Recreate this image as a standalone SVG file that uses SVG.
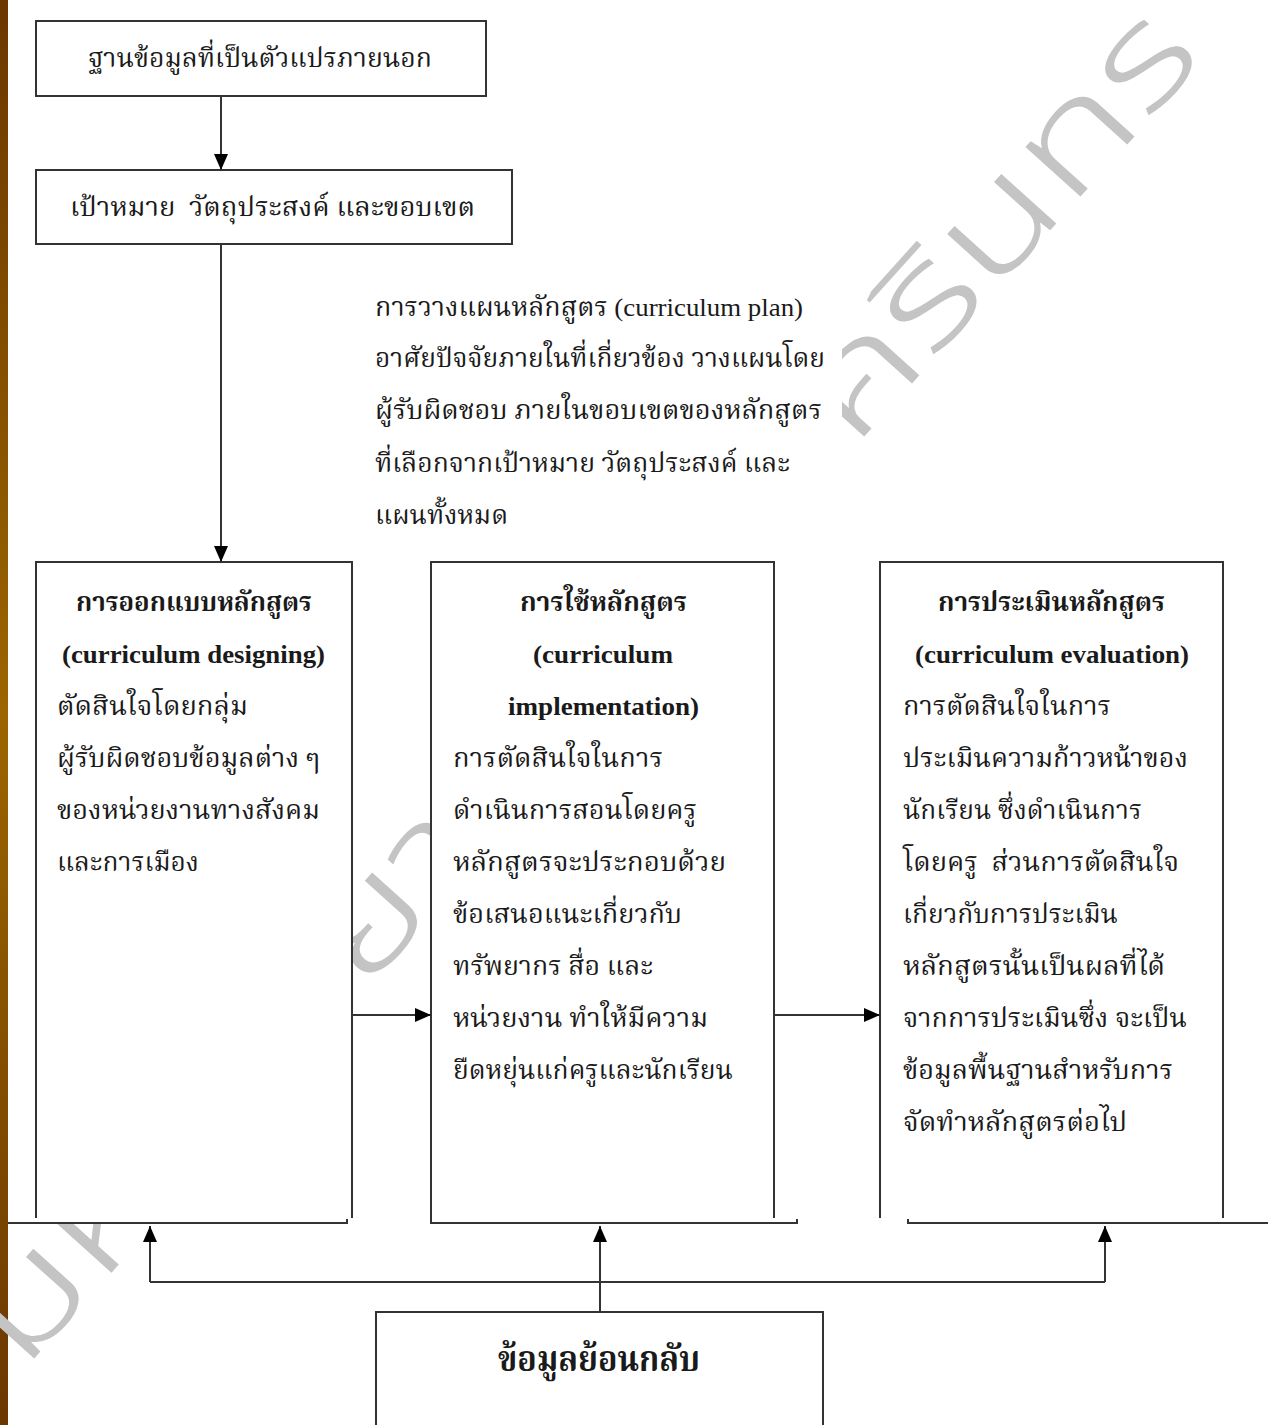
<svg xmlns="http://www.w3.org/2000/svg" width="1268" height="1425" viewBox="0 0 1268 1425">
  <defs>
    <linearGradient id="strip" x1="0" y1="0" x2="0" y2="1">
      <stop offset="0" stop-color="#6a3800"/>
      <stop offset="0.5" stop-color="#9c6500"/>
      <stop offset="1" stop-color="#6a3800"/>
    </linearGradient>
    <marker id="arr" markerUnits="userSpaceOnUse" markerWidth="16" markerHeight="16" viewBox="0 0 16 16" refX="16" refY="8" orient="auto">
      <path d="M0,1 L16,8 L0,15 Z" fill="#000"/>
    </marker>
    <style>
      .ln { fill: none; stroke: #333; stroke-width: 2; }
      .box { fill: #fff; stroke: none; }
      .t { font-family: "Liberation Serif", "Noto Serif Thai", "Noto Sans Thai", "Noto Sans", serif; font-size: 26px; fill: #1a1a1a; }
      .b { font-weight: bold; }
      .big { font-size: 36px; }
      .wm { font-family: "Noto Sans Thai", "Noto Sans", "DejaVu Sans", sans-serif; font-size: 135px; font-weight: 300; fill: #c4c4c4; }
    </style>
  </defs>
  <rect width="1268" height="1425" fill="#fff"/>
  <rect x="0" y="0" width="8" height="1425" fill="url(#strip)"/>

  <g id="watermark">
    <text class="wm" transform="translate(22,1372) rotate(-48)" textLength="1770" lengthAdjust="spacingAndGlyphs">มหาวิทยาลัยศรีนครินทร</text>
  </g>

  <g id="plan-note">
    <rect x="362" y="282" width="480" height="281" class="box"/>
    <text class="t" x="375" y="316" textLength="428" lengthAdjust="spacingAndGlyphs">การวางแผนหลักสูตร (curriculum plan)</text>
    <text class="t" x="375" y="367" textLength="450" lengthAdjust="spacingAndGlyphs">อาศัยปัจจัยภายในที่เกี่ยวข้อง วางแผนโดย</text>
    <text class="t" x="375" y="419" textLength="447" lengthAdjust="spacingAndGlyphs">ผู้รับผิดชอบ ภายในขอบเขตของหลักสูตร</text>
    <text class="t" x="375" y="472" textLength="415" lengthAdjust="spacingAndGlyphs">ที่เลือกจากเป้าหมาย วัตถุประสงค์ และ</text>
    <text class="t" x="375" y="524" textLength="133" lengthAdjust="spacingAndGlyphs">แผนทั้งหมด</text>
  </g>

  <g id="external-data">
    <rect x="36" y="21" width="450" height="75" class="box"/>
    <rect x="36" y="21" width="450" height="75" class="ln"/>
    <text class="t" x="88" y="67" textLength="344" lengthAdjust="spacingAndGlyphs">ฐานข้อมูลที่เป็นตัวแปรภายนอก</text>
  </g>

  <g id="goals">
    <rect x="36" y="170" width="476" height="74" class="box"/>
    <rect x="36" y="170" width="476" height="74" class="ln"/>
    <text class="t" x="70" y="216" textLength="405" lengthAdjust="spacingAndGlyphs">เป้าหมาย &#160;วัตถุประสงค์ และขอบเขต</text>
  </g>

  <g id="design">
    <rect x="36" y="562" width="316" height="661" class="box"/>
    <path class="ln" d="M36,1218 V562 H352 V1218"/>
    <path class="ln" d="M8,1223 H347 V1219"/>
    <text class="t b" x="76" y="611" textLength="236" lengthAdjust="spacingAndGlyphs">การออกแบบหลักสูตร</text>
    <text class="t b" x="62" y="663" textLength="263" lengthAdjust="spacingAndGlyphs">(curriculum designing)</text>
    <text class="t" x="57" y="715" textLength="191" lengthAdjust="spacingAndGlyphs">ตัดสินใจโดยกลุ่ม</text>
    <text class="t" x="57" y="767" textLength="263" lengthAdjust="spacingAndGlyphs">ผู้รับผิดชอบข้อมูลต่าง ๆ</text>
    <text class="t" x="57" y="819" textLength="263" lengthAdjust="spacingAndGlyphs">ของหน่วยงานทางสังคม</text>
    <text class="t" x="57" y="871" textLength="142" lengthAdjust="spacingAndGlyphs">และการเมือง</text>
  </g>

  <g id="implementation">
    <rect x="431" y="562" width="343" height="661" class="box"/>
    <path class="ln" d="M431,1218 V562 H774 V1218"/>
    <path class="ln" d="M431,1218 V1223 H797 V1219"/>
    <text class="t b" x="520" y="611" textLength="167" lengthAdjust="spacingAndGlyphs">การใช้หลักสูตร</text>
    <text class="t b" x="533" y="663" textLength="140" lengthAdjust="spacingAndGlyphs">(curriculum</text>
    <text class="t b" x="508" y="715" textLength="191" lengthAdjust="spacingAndGlyphs">implementation)</text>
    <text class="t" x="453" y="767" textLength="210" lengthAdjust="spacingAndGlyphs">การตัดสินใจในการ</text>
    <text class="t" x="453" y="819" textLength="244" lengthAdjust="spacingAndGlyphs">ดำเนินการสอนโดยครู</text>
    <text class="t" x="453" y="871" textLength="273" lengthAdjust="spacingAndGlyphs">หลักสูตรจะประกอบด้วย</text>
    <text class="t" x="453" y="923" textLength="229" lengthAdjust="spacingAndGlyphs">ข้อเสนอแนะเกี่ยวกับ</text>
    <text class="t" x="453" y="975" textLength="200" lengthAdjust="spacingAndGlyphs">ทรัพยากร สื่อ และ</text>
    <text class="t" x="453" y="1027" textLength="255" lengthAdjust="spacingAndGlyphs">หน่วยงาน ทำให้มีความ</text>
    <text class="t" x="453" y="1079" textLength="280" lengthAdjust="spacingAndGlyphs">ยืดหยุ่นแก่ครูและนักเรียน</text>
  </g>

  <g id="evaluation">
    <rect x="880" y="562" width="343" height="661" class="box"/>
    <path class="ln" d="M880,1218 V562 H1223 V1218"/>
    <path class="ln" d="M908,1219 V1223 H1268"/>
    <text class="t b" x="938" y="611" textLength="227" lengthAdjust="spacingAndGlyphs">การประเมินหลักสูตร</text>
    <text class="t b" x="915" y="663" textLength="274" lengthAdjust="spacingAndGlyphs">(curriculum evaluation)</text>
    <text class="t" x="903" y="715" textLength="208" lengthAdjust="spacingAndGlyphs">การตัดสินใจในการ</text>
    <text class="t" x="903" y="767" textLength="285" lengthAdjust="spacingAndGlyphs">ประเมินความก้าวหน้าของ</text>
    <text class="t" x="903" y="819" textLength="239" lengthAdjust="spacingAndGlyphs">นักเรียน ซึ่งดำเนินการ</text>
    <text class="t" x="903" y="871" textLength="276" lengthAdjust="spacingAndGlyphs">โดยครู &#160;ส่วนการตัดสินใจ</text>
    <text class="t" x="903" y="923" textLength="215" lengthAdjust="spacingAndGlyphs">เกี่ยวกับการประเมิน</text>
    <text class="t" x="903" y="975" textLength="262" lengthAdjust="spacingAndGlyphs">หลักสูตรนั้นเป็นผลที่ได้</text>
    <text class="t" x="903" y="1027" textLength="284" lengthAdjust="spacingAndGlyphs">จากการประเมินซึ่ง จะเป็น</text>
    <text class="t" x="903" y="1079" textLength="270" lengthAdjust="spacingAndGlyphs">ข้อมูลพื้นฐานสำหรับการ</text>
    <text class="t" x="903" y="1131" textLength="224" lengthAdjust="spacingAndGlyphs">จัดทำหลักสูตรต่อไป</text>
  </g>

  <g id="feedback">
    <rect x="376" y="1312" width="447" height="120" class="box"/>
    <rect x="376" y="1312" width="447" height="120" class="ln"/>
    <text class="t b big" x="498" y="1371" textLength="202" lengthAdjust="spacingAndGlyphs">ข้อมูลย้อนกลับ</text>
  </g>

  <g id="connectors">
    <line class="ln" x1="221" y1="96" x2="221" y2="170" marker-end="url(#arr)"/>
    <line class="ln" x1="221" y1="244" x2="221" y2="562" marker-end="url(#arr)"/>
    <line class="ln" x1="353" y1="1015" x2="431" y2="1015" marker-end="url(#arr)"/>
    <line class="ln" x1="775" y1="1015" x2="880" y2="1015" marker-end="url(#arr)"/>
    <line class="ln" x1="600" y1="1312" x2="600" y2="1226" marker-end="url(#arr)"/>
    <line class="ln" x1="150" y1="1282" x2="1105" y2="1282"/>
    <line class="ln" x1="150" y1="1282" x2="150" y2="1226" marker-end="url(#arr)"/>
    <line class="ln" x1="1105" y1="1282" x2="1105" y2="1226" marker-end="url(#arr)"/>
  </g>
</svg>
